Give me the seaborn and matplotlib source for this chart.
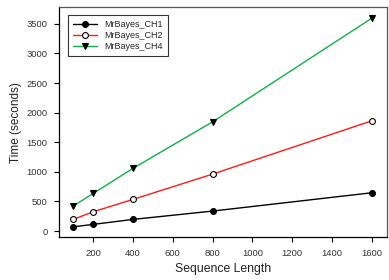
import pandas as pd
import matplotlib
matplotlib.use("Agg")
import matplotlib.pyplot as plt
import seaborn as sns

seq_length = [100, 200, 400, 800, 1600]
ch1_time = [72, 113, 197, 338, 647]
ch2_time = [197, 326, 535, 962, 1862]
ch4_time = [422, 636, 1059, 1845, 3595]
series_names = ["MrBayes_CH1", "MrBayes_CH2", "MrBayes_CH4"]

sns.set_style("ticks")
plt.rcParams['font.family'] = ['Liberation Sans', 'DejaVu Sans']

fig = plt.figure(figsize=(3.89, 2.80), dpi=100)
ax = fig.add_axes([0.1524, 0.1525, 0.8416, 0.8215])

styles = [
    (ch1_time, "black", "o", "black", 4.2),
    (ch2_time, "#ff1a1a", "o", "white", 4.2),
    (ch4_time, "#12b04a", "v", "black", 3.8),
]
for name, (vals, col, mk, face, ms) in zip(series_names, styles):
    df = pd.DataFrame({"Sequence Length": seq_length, "Time": vals})
    sns.lineplot(data=df, x="Sequence Length", y="Time", ax=ax, color=col,
                 linewidth=1.0, marker=mk, markersize=ms, markerfacecolor=face,
                 markeredgecolor="black", markeredgewidth=0.8, label=name)

ax.set_xlim(30, 1675)
ax.set_ylim(-105, 3780)
ax.set_xticks([200, 400, 600, 800, 1000, 1200, 1400, 1600])
ax.set_yticks([0, 500, 1000, 1500, 2000, 2500, 3000, 3500])
ax.set_xlabel("Sequence Length", fontsize=8.8, color="#222222", labelpad=3.5)
ax.set_ylabel("Time (seconds)", fontsize=8.5, color="#222222", labelpad=3)
ax.tick_params(axis="both", labelsize=6.8, length=3.5, width=0.8, colors="black",
               labelcolor="#333333", pad=5)
for side in ["left", "bottom"]:
    ax.spines[side].set_color("black")
    ax.spines[side].set_linewidth(0.9)
for side in ["top", "right"]:
    ax.spines[side].set_visible(True)
    ax.spines[side].set_color("#555555")
    ax.spines[side].set_linewidth(0.9)

leg = ax.legend(loc="upper left", fontsize=6.5, frameon=True, fancybox=False,
                borderpad=0.55, handlelength=2.7, labelspacing=0.2,
                bbox_to_anchor=(0.012, 0.985))
leg.get_frame().set_edgecolor("black")
leg.get_frame().set_linewidth(0.8)

fig.savefig("out.png", dpi=100)
